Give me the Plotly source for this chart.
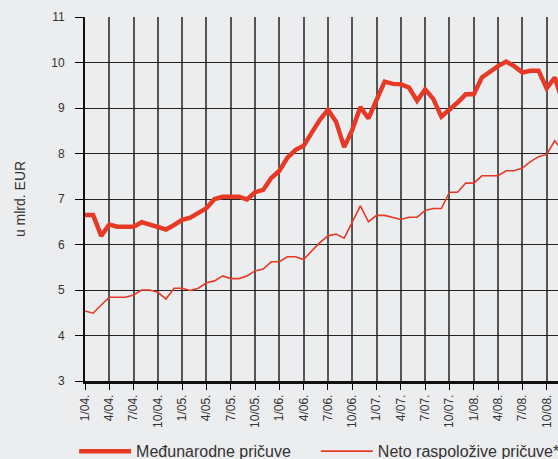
import plotly.graph_objects as go

# Monthly labels 1/04. .. 12/08.
months = [f"{m}/{y:02d}." for y in range(4, 9) for m in range(1, 13)]

medjunarodne = [
    6.65, 6.65, 6.19, 6.44, 6.39, 6.39, 6.39, 6.49, 6.44, 6.38, 6.33, 6.43,
    6.54, 6.59, 6.69, 6.80, 7.00, 7.05, 7.05, 7.05, 6.99, 7.15, 7.20, 7.46,
    7.62, 7.91, 8.08, 8.17, 8.46, 8.74, 8.96, 8.70, 8.14, 8.52, 9.02, 8.77,
    9.18, 9.58, 9.53, 9.52, 9.45, 9.16, 9.41, 9.20, 8.81, 8.96, 9.12, 9.30,
    9.30, 9.67, 9.81, 9.92, 10.02, 9.92, 9.78, 9.82, 9.82, 9.43, 9.67, 9.12,
]

neto = [
    4.54, 4.49, 4.67, 4.84, 4.84, 4.84, 4.89, 5.00, 5.00, 4.95, 4.80, 5.04,
    5.04, 4.99, 5.04, 5.16, 5.20, 5.31, 5.25, 5.25, 5.31, 5.42, 5.46, 5.62,
    5.62, 5.73, 5.73, 5.67, 5.86, 6.04, 6.19, 6.23, 6.14, 6.50, 6.85, 6.50,
    6.64, 6.64, 6.60, 6.55, 6.60, 6.60, 6.75, 6.79, 6.79, 7.15, 7.15, 7.35,
    7.35, 7.51, 7.51, 7.51, 7.62, 7.62, 7.68, 7.82, 7.93, 7.98, 8.28, 8.05,
]

tick_labels = months[::3]
y_ticks = list(range(3, 12))

RED = "#e63a26"
BG = "#ecedef"
TXT = "#333333"
FONT = "Liberation Sans, Arial, sans-serif"

fig = go.Figure()
fig.add_trace(go.Scatter(
    x=months, y=medjunarodne, mode="lines", name="Međunarodne pričuve",
    line=dict(color=RED, width=4.5), legend="legend",
))
fig.add_trace(go.Scatter(
    x=months, y=neto, mode="lines", name="Neto raspoložive pričuve*",
    line=dict(color=RED, width=1.6), legend="legend2",
))

leg_common = dict(
    orientation="h", xanchor="left", y=-0.193, yanchor="middle",
    font=dict(size=16, color=TXT), bgcolor="rgba(0,0,0,0)",
    itemwidth=52,
)

fig.update_layout(
    width=558, height=459,
    template="none",
    paper_bgcolor=BG, plot_bgcolor=BG,
    margin=dict(l=85, r=0, t=17, b=78, autoexpand=False),
    font=dict(family=FONT, color=TXT, size=12),
    showlegend=True,
    legend=dict(x=-0.023, **leg_common),
    legend2=dict(x=0.488, **leg_common),
)

fig.update_xaxes(
    type="category",
    range=[0, 58.4],
    tickmode="array", tickvals=tick_labels, ticktext=tick_labels,
    tickangle=-90,
    tickfont=dict(size=12, color=TXT),
    ticks="outside", ticklen=6, tickcolor="#000", tickwidth=1,
    showgrid=True, gridcolor="#555555", gridwidth=1.5,
    showline=True, linecolor="#111", linewidth=2.5,
    zeroline=False,
)
fig.update_yaxes(
    range=[3, 11],
    tickmode="array", tickvals=y_ticks,
    tickfont=dict(size=12, color=TXT),
    ticks="outside", ticklen=8, tickcolor="#000", tickwidth=1,
    ticklabelstandoff=8,
    showgrid=True, gridcolor="#222222", gridwidth=1,
    showline=True, linecolor="#111", linewidth=2,
    zeroline=False,
    title=dict(text="u mlrd. EUR", font=dict(size=14, color=TXT), standoff=22),
)

fig.write_html(
    "out.html",
    config={"displayModeBar": False},
    post_script="document.body.style.margin='0px';",
)
